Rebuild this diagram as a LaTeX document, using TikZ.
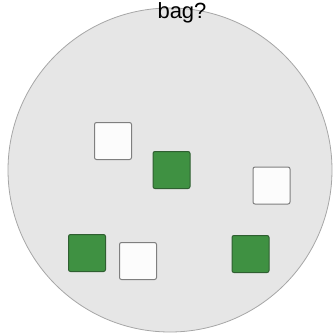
\documentclass[tikz,border=0pt]{standalone}
\usepackage{fontspec}
\setmainfont{Liberation Sans}
\usetikzlibrary{positioning}
\definecolor{baggray}{HTML}{E6E6E6}
\definecolor{bagline}{HTML}{A6A6A6}
\definecolor{ballgreen}{HTML}{3F9142}
\definecolor{greenline}{HTML}{2F5F31}
\definecolor{ballwhite}{HTML}{FCFCFC}
\definecolor{whiteline}{HTML}{7F7F7F}

\begin{document}
\begin{tikzpicture}[
  x=1pt,y=-1pt,
  bagcircle/.style={circle,draw=bagline,fill=baggray,line width=0.8pt,minimum size=324pt,inner sep=0pt},
  item/.style={rectangle,rounded corners=2pt,line width=1pt,minimum size=37pt,inner sep=0pt},
  whitebox/.style={item,draw=whiteline,fill=ballwhite},
  greenbox/.style={item,draw=greenline,fill=ballgreen}
]
\useasboundingbox (0,0) rectangle (333,335);

% Bag
\node[bagcircle] (bag) at (170,170) {};

% Items
\node[whitebox] (white1) at (113,141) {};
\node[greenbox] (green1) at (171.5,170) {};
\node[whitebox] (white2) at (271.5,185.5) {};
\node[greenbox] (green2) at (87,253) {};
\node[whitebox] (white3) at (138,261) {};
\node[greenbox] (green3) at (250.5,254) {};

% Label
\node[anchor=base,font=\fontsize{22}{24}\selectfont,inner sep=0pt] (question) at (182,18.5) {bag?};

\end{tikzpicture}
\end{document}
